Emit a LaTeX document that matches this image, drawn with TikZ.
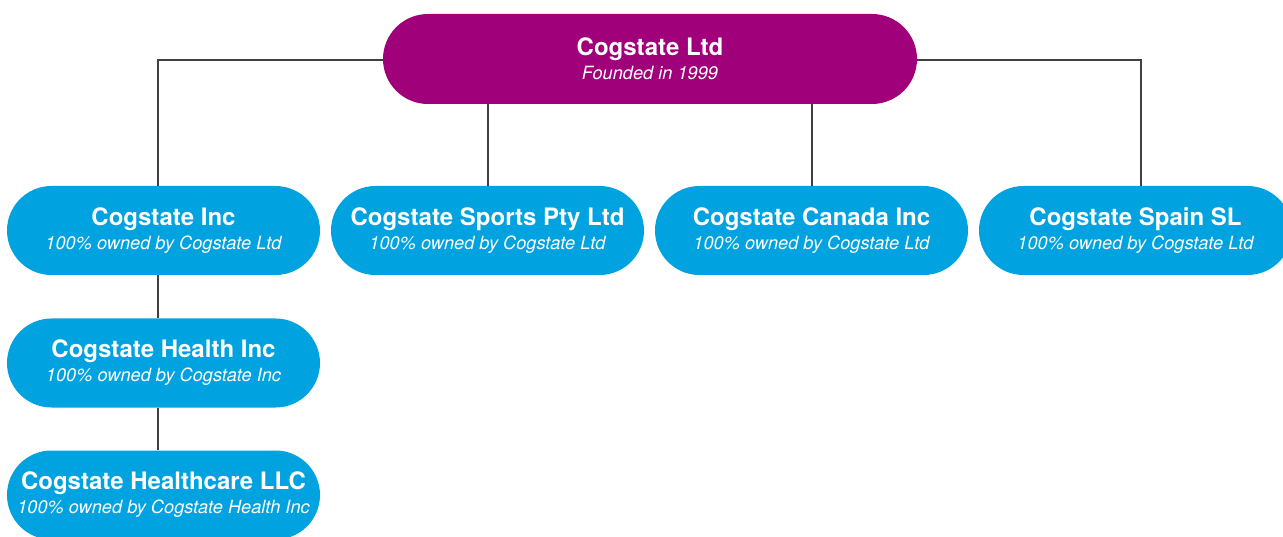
\documentclass[tikz,border=0pt]{standalone}
\usepackage{fontspec}
\setmainfont{TeX Gyre Heros}
\definecolor{cogmagenta}{HTML}{A0007A}
\definecolor{cogblue}{HTML}{00A3E0}
\definecolor{linkgrey}{HTML}{404040}
\begin{document}
\begin{tikzpicture}[x=1pt,y=-1pt,
  entity/.style={fill=cogblue, text=white, rounded corners=44.5pt,
    minimum width=313pt, minimum height=89pt, inner sep=0pt, align=center,
    font=\fontsize{18.2}{24}\selectfont},
  parent/.style={entity, fill=cogmagenta, minimum width=534pt, minimum height=90pt, rounded corners=45pt},
  link/.style={draw=linkgrey, line width=2.4pt},
]
\newcommand{\orgname}[1]{{\fontsize{24}{24}\selectfont\bfseries #1}}
\newcommand{\orgnote}[1]{{\itshape #1}}
\useasboundingbox (0,0) rectangle (1283,537);
\clip (0,0) rectangle (1283,537);

% parent company
\node[parent] (ltd) at (650,59) {\orgname{Cogstate Ltd}\\\orgnote{Founded in 1999}};

% first-level subsidiaries
\node[entity] (inc)    at (163.5,230.5) {\orgname{Cogstate Inc}\\\orgnote{100\% owned by Cogstate Ltd}};
\node[entity] (sports) at (487.5,230.5) {\orgname{Cogstate Sports Pty Ltd}\\\orgnote{100\% owned by Cogstate Ltd}};
\node[entity] (canada) at (811.5,230.5) {\orgname{Cogstate Canada Inc}\\\orgnote{100\% owned by Cogstate Ltd}};
\node[entity] (spain)  at (1135.5,230.5) {\orgname{Cogstate Spain SL}\\\orgnote{100\% owned by Cogstate Ltd}};

% lower levels
\node[entity] (health) at (163.5,363) {\orgname{Cogstate Health Inc}\\\orgnote{100\% owned by Cogstate Inc}};
\node[entity] (care)   at (163.5,495) {\orgname{Cogstate Healthcare LLC}\\\orgnote{100\% owned by Cogstate Health Inc}};

% connectors
\coordinate (lj) at (158,60);
\coordinate (rj) at (1141,60);
\draw[link] (ltd.west |- lj) -- (lj) -- (lj |- inc.north);
\draw[link] (ltd.east |- rj) -- (rj) -- (rj |- spain.north);
\draw[link] ([xshift=0.5pt]ltd.south -| sports.north) -- ([xshift=0.5pt]sports.north);
\draw[link] ([xshift=0.5pt]ltd.south -| canada.north) -- ([xshift=0.5pt]canada.north);
\draw[link] ([xshift=-5.5pt]inc.south) -- ([xshift=-5.5pt]health.north);
\draw[link] ([xshift=-5.5pt]health.south) -- ([xshift=-5.5pt]care.north);
\end{tikzpicture}
\end{document}
